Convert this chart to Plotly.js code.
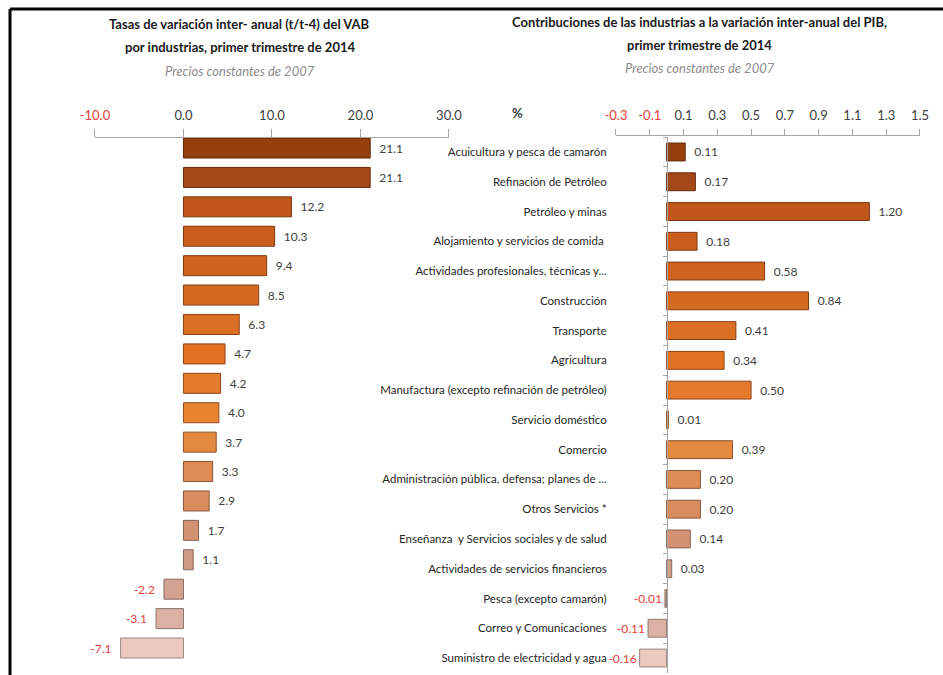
<!DOCTYPE html>
<html><head><meta charset="utf-8">
<script src="https://cdn.plot.ly/plotly-3.0.1.min.js"></script>
<style>html,body{margin:0;padding:0;background:#fff}#chart{width:943px;height:675px}</style>
</head><body><div id="chart"></div>
<script>
const industries = [
  "Acuicultura y pesca de camarón",
  "Refinación de Petróleo",
  "Petróleo y minas",
  "Alojamiento y servicios de comida ",
  "Actividades profesionales, técnicas y...",
  "Construcción",
  "Transporte",
  "Agricultura",
  "Manufactura (excepto refinación de petróleo)",
  "Servicio doméstico",
  "Comercio",
  "Administración pública, defensa; planes de ...",
  "Otros Servicios *",
  "Enseñanza  y Servicios sociales y de salud",
  "Actividades de servicios financieros",
  "Pesca (excepto camarón)",
  "Correo y Comunicaciones",
  "Suministro de electricidad y agua"
];
const vabGrowth = [21.1, 21.1, 12.2, 10.3, 9.4, 8.5, 6.3, 4.7, 4.2, 4.0, 3.7, 3.3, 2.9, 1.7, 1.1, -2.2, -3.1, -7.1];
const gdpContribution = [0.11, 0.17, 1.20, 0.18, 0.58, 0.84, 0.41, 0.34, 0.50, 0.01, 0.39, 0.20, 0.20, 0.14, 0.03, -0.01, -0.11, -0.16];
const leftTicks = [-10, 0, 10, 20, 30];
const leftTickLabels = ["-10.0", "0.0", "10.0", "20.0", "30.0"];
const rightTicks = [-0.3, -0.1, 0.1, 0.3, 0.5, 0.7, 0.9, 1.1, 1.3, 1.5];
const rightTickLabels = ["-0.3", "-0.1", "0.1", "0.3", "0.5", "0.7", "0.9", "1.1", "1.3", "1.5"];

// styles
const fills = ["#97400f","#a4481a","#c2571b","#c95e1d","#d0641f","#d66a21","#db6f24","#e27222","#e37a2c","#e8842e",
               "#e38a40","#dd8c55","#d98d5f","#d39272","#cf9c84","#d3a290","#dcb0a2","#ecc9be"];
const edges = ["#5e2608","#66290c","#7a340e","#7e3610","#823811","#863b13","#8a3e15","#8e4014","#8f4519","#934c1c",
               "#8e5128","#8a5435","#87563d","#85604f","#84685d","#886c63","#8e776f","#9a857f"];
const RED = "#e5403a";
const TXT = "#404040";
const FONT = "Lato, 'Open Sans', sans-serif";

function redIfNeg(vals, labels) {
  return labels.map((t, i) => vals[i] < 0 ? '<span style="color:' + RED + '">' + t + '</span>' : t);
}
const NB = "\u00a0\u00a0";

const traces = [
  {
    type: "bar", orientation: "h", xaxis: "x", yaxis: "y",
    y: industries, x: vabGrowth,
    width: 0.68,
    marker: {color: fills, line: {color: edges, width: 1}},
    text: vabGrowth.map(v => v < 0 ? v.toFixed(1) + NB : NB + v.toFixed(1)),
    textposition: "outside", cliponaxis: false,
    textfont: {family: FONT, size: 12, color: vabGrowth.map(v => v < 0 ? RED : TXT)},
    hoverinfo: "x+y", showlegend: false
  },
  {
    type: "bar", orientation: "h", xaxis: "x2", yaxis: "y2",
    y: industries, x: gdpContribution,
    width: 0.6,
    marker: {color: fills, line: {color: edges, width: 1}},
    text: gdpContribution.map(v => v < 0 ? v.toFixed(2) : NB + v.toFixed(2)),
    textposition: "outside", cliponaxis: false,
    textfont: {family: FONT, size: 12, color: gdpContribution.map(v => v < 0 ? RED : TXT)},
    hoverinfo: "x+y", showlegend: false
  }
];

const axisCommon = {
  side: "top", showline: true, linecolor: "#a6a6a6", linewidth: 1,
  ticks: "outside", tickcolor: "#a6a6a6", ticklen: 8, tickwidth: 1,
  showgrid: false, zeroline: false, fixedrange: true, ticklabelstandoff: 4,
  tickfont: {family: FONT, size: 13, color: TXT}
};

const layout = {
  width: 943, height: 675,
  margin: {l: 0, r: 0, t: 0, b: 0},
  paper_bgcolor: "#ffffff", plot_bgcolor: "rgba(0,0,0,0)",
  font: {family: FONT, color: TXT},
  showlegend: false,
  bargap: 0.3,
  xaxis: Object.assign({}, axisCommon, {
    domain: [0.1007, 0.4761], range: [-10, 30], anchor: "free", position: 0.797,
    tickmode: "array", tickvals: leftTicks, ticktext: redIfNeg(leftTicks, leftTickLabels)
  }),
  yaxis: {
    domain: [0.0182, 0.8025], type: "category", autorange: "reversed",
    visible: false, anchor: "x", fixedrange: true
  },
  xaxis2: Object.assign({}, axisCommon, {
    domain: [0.6532, 0.9756], range: [-0.3, 1.5], anchor: "free", position: 0.80, ticklen: 6,
    tickmode: "array", tickvals: rightTicks, ticktext: redIfNeg(rightTicks, rightTickLabels)
  }),
  yaxis2: {
    domain: [0.0031, 0.7969], type: "category", autorange: "reversed",
    anchor: "free", position: 0.7073, fixedrange: true,
    showline: true, linecolor: "#a6a6a6", linewidth: 1,
    ticks: "outside", ticklen: 4, tickcolor: "#a6a6a6", tickson: "boundaries",
    showgrid: false, zeroline: false, ticklabelstandoff: 58,
    tickfont: {family: FONT, size: 11.5, color: "#262626"}
  },
  annotations: [
    {xref: "paper", yref: "paper", x: 0.2545, y: 1 - 24/675, text: "<b>Tasas de variación inter- anual (t/t-4) del VAB</b>", showarrow: false, font: {family: FONT, size: 13, color: "#1a1a1a"}, xanchor: "center", yanchor: "middle"},
    {xref: "paper", yref: "paper", x: 0.2545, y: 1 - 47/675, text: "<b>por industrias, primer trimestre de 2014</b>", showarrow: false, font: {family: FONT, size: 13, color: "#1a1a1a"}, xanchor: "center", yanchor: "middle"},
    {xref: "paper", yref: "paper", x: 0.2545, y: 1 - 71/675, text: "<i>Precios constantes de 2007</i>", showarrow: false, font: {family: FONT, size: 13, color: "#8c8c8c"}, xanchor: "center", yanchor: "middle"},
    {xref: "paper", yref: "paper", x: 0.742, y: 1 - 22/675, text: "<b>Contribuciones de las industrias a la variación inter-anual del PIB,</b>", showarrow: false, font: {family: FONT, size: 13, color: "#1a1a1a"}, xanchor: "center", yanchor: "middle"},
    {xref: "paper", yref: "paper", x: 0.742, y: 1 - 45/675, text: "<b>primer trimestre de 2014</b>", showarrow: false, font: {family: FONT, size: 13, color: "#1a1a1a"}, xanchor: "center", yanchor: "middle"},
    {xref: "paper", yref: "paper", x: 0.742, y: 1 - 68/675, text: "<i>Precios constantes de 2007</i>", showarrow: false, font: {family: FONT, size: 13, color: "#8c8c8c"}, xanchor: "center", yanchor: "middle"},
    {xref: "paper", yref: "paper", x: 517/943, y: 1 - 113/675, text: "<b>%</b>", showarrow: false, font: {family: FONT, size: 13, color: "#404040"}, xanchor: "center", yanchor: "middle"}
  ],
  shapes: [
    {type: "line", xref: "paper", yref: "paper", x0: 10/943, x1: 1, y0: 1 - 9/675, y1: 1 - 9/675, line: {color: "#000", width: 3}},
    {type: "line", xref: "paper", yref: "paper", x0: 10/943, x1: 10/943, y0: 0, y1: 1 - 9/675, line: {color: "#000", width: 3}}
  ]
};

Plotly.newPlot("chart", traces, layout, {displayModeBar: false, staticPlot: true});
</script>
</body></html>
